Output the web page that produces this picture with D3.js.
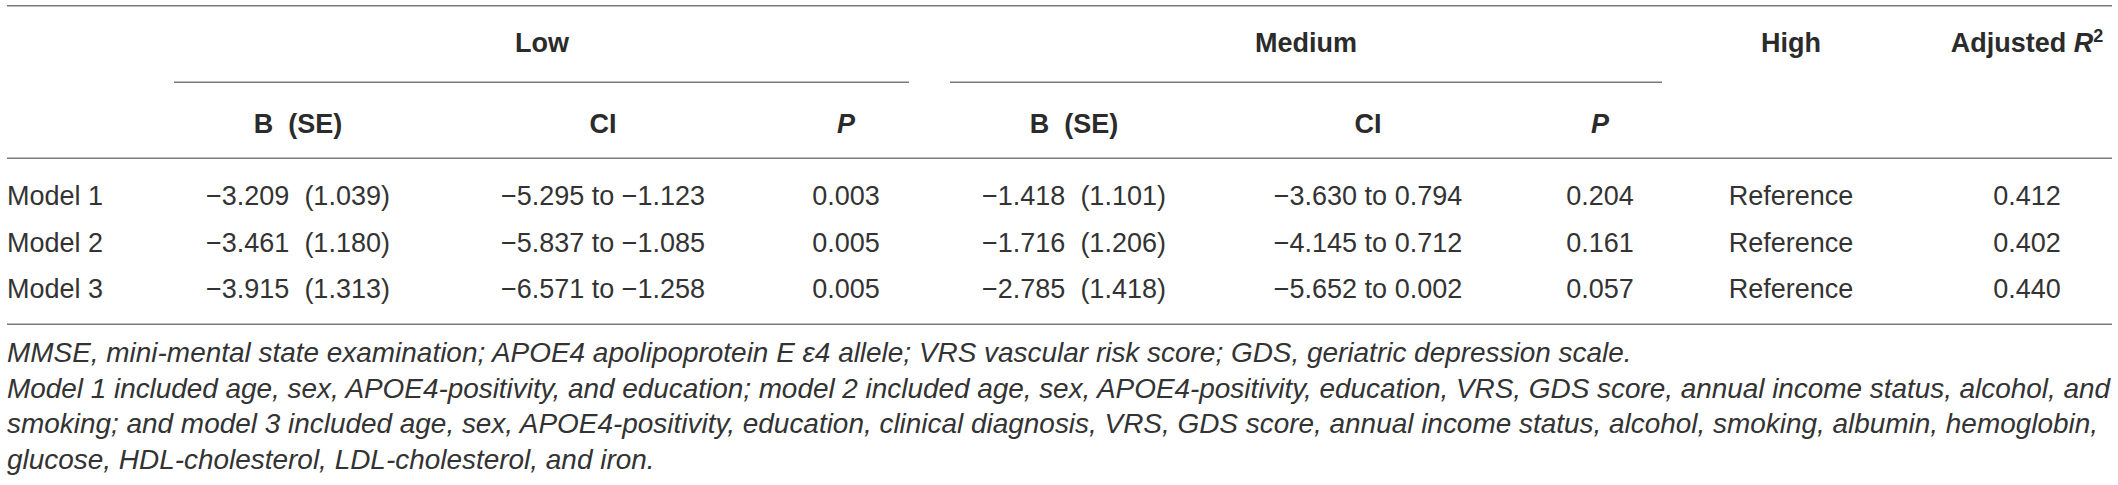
<!DOCTYPE html>
<html>
<head>
<meta charset="utf-8">
<script src="https://cdn.jsdelivr.net/npm/d3@7"></script>
<style>
  html, body { margin: 0; padding: 0; background: #fff; }
  svg text { font-family: "Liberation Sans", Arial, Helvetica, sans-serif; fill: #2b2b2b; white-space: pre; }
  svg .body text, svg .notes text { fill: #333; }
</style>
</head>
<body>
<svg id="chart" width="2118" height="485"></svg>
<script>
// table values
const models = ['Model 1', 'Model 2', 'Model 3']
const lowB = [-3.209, -3.461, -3.915]
const lowSE = [1.039, 1.180, 1.313]
const lowCILo = [-5.295, -5.837, -6.571]
const lowCIHi = [-1.123, -1.085, -1.258]
const lowP = [0.003, 0.005, 0.005]
const medB = [-1.418, -1.716, -2.785]
const medSE = [1.101, 1.206, 1.418]
const medCILo = [-3.630, -4.145, -5.652]
const medCIHi = [0.794, 0.712, 0.002]
const medP = [0.204, 0.161, 0.057]
const highRef = ['Reference', 'Reference', 'Reference']
const adjR2 = [0.412, 0.402, 0.440]

const groups = ['Low', 'Medium']
const subHeads = ['B  (SE)', 'CI', 'P']
const notes = [
  'MMSE, mini-mental state examination; APOE4 apolipoprotein E \u03b54 allele; VRS vascular risk score; GDS, geriatric depression scale.',
  'Model 1 included age, sex, APOE4-positivity, and education; model 2 included age, sex, APOE4-positivity, education, VRS, GDS score, annual income status, alcohol, and',
  'smoking; and model 3 included age, sex, APOE4-positivity, education, clinical diagnosis, VRS, GDS score, annual income status, alcohol, smoking, albumin, hemoglobin,',
  'glucose, HDL-cholesterol, LDL-cholesterol, and iron.'
]

const svg = d3.select('#chart')
const left = 7, right = 2112
const ruleColor = '#7a7a7a'

const fmt = v => d3.format('.3f')(v).replace('-', '\u2212')
const fmtCI = (a, b) => `${fmt(a)} to ${fmt(b)}`

// column layout
const colKeys = ['lowB', 'lowCI', 'lowP', 'medB', 'medCI', 'medP', 'high', 'r2']
const x = d3.scaleOrdinal(colKeys, [298, 603, 846, 1074, 1368, 1600, 1791, 2027])
const groupX = d3.scaleOrdinal(groups, [542, 1306])
const groupSpan = d3.scaleOrdinal(groups, [[174, 909], [950, 1662]])
const y = d3.scalePoint().domain(models).range([205, 298])

// horizontal rules
const rules = [5.7, 158.3, 324.3]
svg.selectAll('line.rule').data(rules).join('line')
    .attr('class', 'rule')
    .attr('x1', left).attr('x2', right)
    .attr('y1', d => d).attr('y2', d => d)
    .attr('stroke', ruleColor).attr('stroke-width', 1.6)

svg.selectAll('line.span').data(groups).join('line')
    .attr('class', 'span')
    .attr('x1', d => groupSpan(d)[0]).attr('x2', d => groupSpan(d)[1])
    .attr('y1', 82.3).attr('y2', 82.3)
    .attr('stroke', ruleColor).attr('stroke-width', 1.6)

// top header row
const head = svg.append('g').attr('font-weight', 'bold').attr('font-size', 27).attr('text-anchor', 'middle')
head.selectAll('text.grp').data(groups).join('text')
    .attr('class', 'grp')
    .attr('x', d => groupX(d)).attr('y', 52)
    .text(d => d)
head.append('text').attr('x', x('high')).attr('y', 52).text('High')
const r2 = head.append('text').attr('x', x('r2')).attr('y', 52)
r2.append('tspan').text('Adjusted ')
r2.append('tspan').attr('font-style', 'italic').text('R')
r2.append('tspan').attr('font-size', 18).attr('dy', -10).text('2')

// sub header row
const subCols = [['lowB', 'lowCI', 'lowP'], ['medB', 'medCI', 'medP']]
subCols.forEach(cols => {
    head.selectAll(null).data(cols).join('text')
        .attr('x', d => x(d)).attr('y', 133)
        .attr('font-style', (d, i) => subHeads[i] === 'P' ? 'italic' : null)
        .text((d, i) => subHeads[i])
})

// body rows
const rows = models.map((m, i) => ({
    label: m,
    lowB: `${fmt(lowB[i])}  (${lowSE[i].toFixed(3)})`,
    lowCI: fmtCI(lowCILo[i], lowCIHi[i]),
    lowP: fmt(lowP[i]),
    medB: `${fmt(medB[i])}  (${medSE[i].toFixed(3)})`,
    medCI: fmtCI(medCILo[i], medCIHi[i]),
    medP: fmt(medP[i]),
    high: highRef[i],
    r2: fmt(adjR2[i])
}))

const body = svg.append('g').attr('class', 'body').attr('font-size', 27)
const rowG = body.selectAll('g.row').data(rows).join('g')
    .attr('class', 'row')
    .attr('transform', d => `translate(0,${y(d.label)})`)
rowG.append('text').attr('x', left).text(d => d.label)
rowG.selectAll('text.cell').data(d => colKeys.map(k => ({ k, v: d[k] }))).join('text')
    .attr('class', 'cell')
    .attr('x', d => x(d.k))
    .attr('text-anchor', 'middle')
    .text(d => d.v)

// footnotes: size fitted so the first line ends where it does in the print
const noteY = d3.scaleLinear().domain([0, notes.length - 1]).range([362, 469])
const noteEnds = [1632, 2110, 2098, null]
const noteG = svg.append('g').attr('class', 'notes').attr('font-size', 26).attr('font-style', 'italic')
const noteT = noteG.selectAll('text').data(notes).join('text')
    .attr('x', left)
    .attr('y', (d, i) => noteY(i))
    .text(d => d)
const natural = noteT.nodes()[0].getComputedTextLength()
noteG.attr('font-size', 26 * (noteEnds[0] - left) / natural)
noteT.filter((d, i) => i === 1 || i === 2)
    .attr('textLength', (d, i) => noteEnds[i + 1] - left)
    .attr('lengthAdjust', 'spacing')
</script>
</body>
</html>
